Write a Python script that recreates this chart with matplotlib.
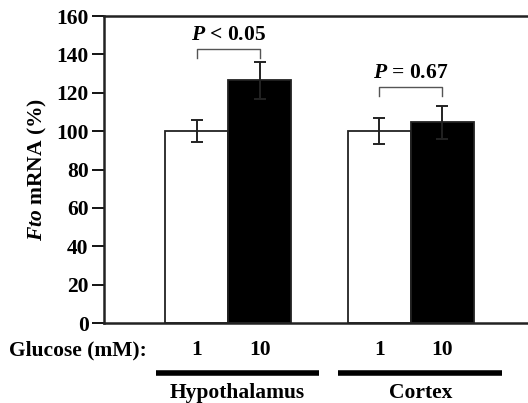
import numpy as np
import matplotlib.pyplot as plt

plt.rcParams['font.family'] = 'Liberation Serif'
plt.rcParams['font.weight'] = 'bold'
plt.rcParams['mathtext.fontset'] = 'custom'
plt.rcParams['mathtext.it'] = 'Liberation Serif:italic:bold'
plt.rcParams['mathtext.rm'] = 'Liberation Serif:bold'

# dane
regions = ['Hypothalamus', 'Cortex']
glucose = ['1', '10']
means = [[100, 126.5], [100, 104.6]]
errs = [[5.6, 9.5], [6.8, 8.7]]
pvals = [r'$\mathit{P}$ < 0.05', r'$\mathit{P}$ = 0.67']
bracket_y = [142.8, 122.8]
yticks = [0, 20, 40, 60, 80, 100, 120, 140, 160]

fs = 15.5
fig = plt.figure(figsize=(5.28, 4.03), dpi=100)
ax = fig.add_axes([0.197, 0.1985, 0.82, 0.7615])

group_x = [0.0, 2.9]
colors = ['white', 'black']
for g, x0 in enumerate(group_x):
    xs = [x0, x0 + 1]
    for i in range(2):
        ax.bar(xs[i], means[g][i], width=1.0, color=colors[i], edgecolor='#222222',
               linewidth=1.3, zorder=2)
        ax.errorbar(xs[i], means[g][i], yerr=errs[g][i], color='#222222',
                    capsize=4, elinewidth=1.4, capthick=1.4, zorder=3)
        ax.text(xs[i], -0.088, glucose[i], transform=ax.get_xaxis_transform(),
                ha='center', va='center', fontsize=fs)
    # nawias z wartoscia P
    yb = bracket_y[g]
    ax.plot([xs[0], xs[0], xs[1], xs[1]], [yb - 4.7, yb, yb, yb - 4.7],
            color='#555555', lw=1.0, zorder=3)
    ax.text((xs[0] + xs[1]) / 2, yb + 7.5, pvals[g], ha='center', va='center',
            fontsize=fs)
    # linia grupy i podpis
    ax.plot([x0 - 0.65, x0 + 1.94], [-0.163, -0.163], color='black', lw=4,
            transform=ax.get_xaxis_transform(), clip_on=False, solid_capstyle='butt')
    ax.text(x0 + 0.65, -0.228, regions[g], transform=ax.get_xaxis_transform(),
            ha='center', va='center', fontsize=fs)

ax.text(-0.22, -0.088, 'Glucose (mM):', transform=ax.transAxes, ha='left',
        va='center', fontsize=fs)

ax.set_xlim(-1.47, 5.40)
ax.set_ylim(0, 160)
ax.set_yticks(yticks)
ax.set_xticks([])
ax.tick_params(axis='y', direction='out', length=9, width=1.3, labelsize=fs, pad=2)
for s in ax.spines.values():
    s.set_linewidth(1.8)
    s.set_color('#222222')
ax.set_ylabel(r'$\mathit{Fto}$ mRNA (%)', fontsize=fs, fontweight='bold', labelpad=5)

plt.savefig('out.png', dpi=100)
